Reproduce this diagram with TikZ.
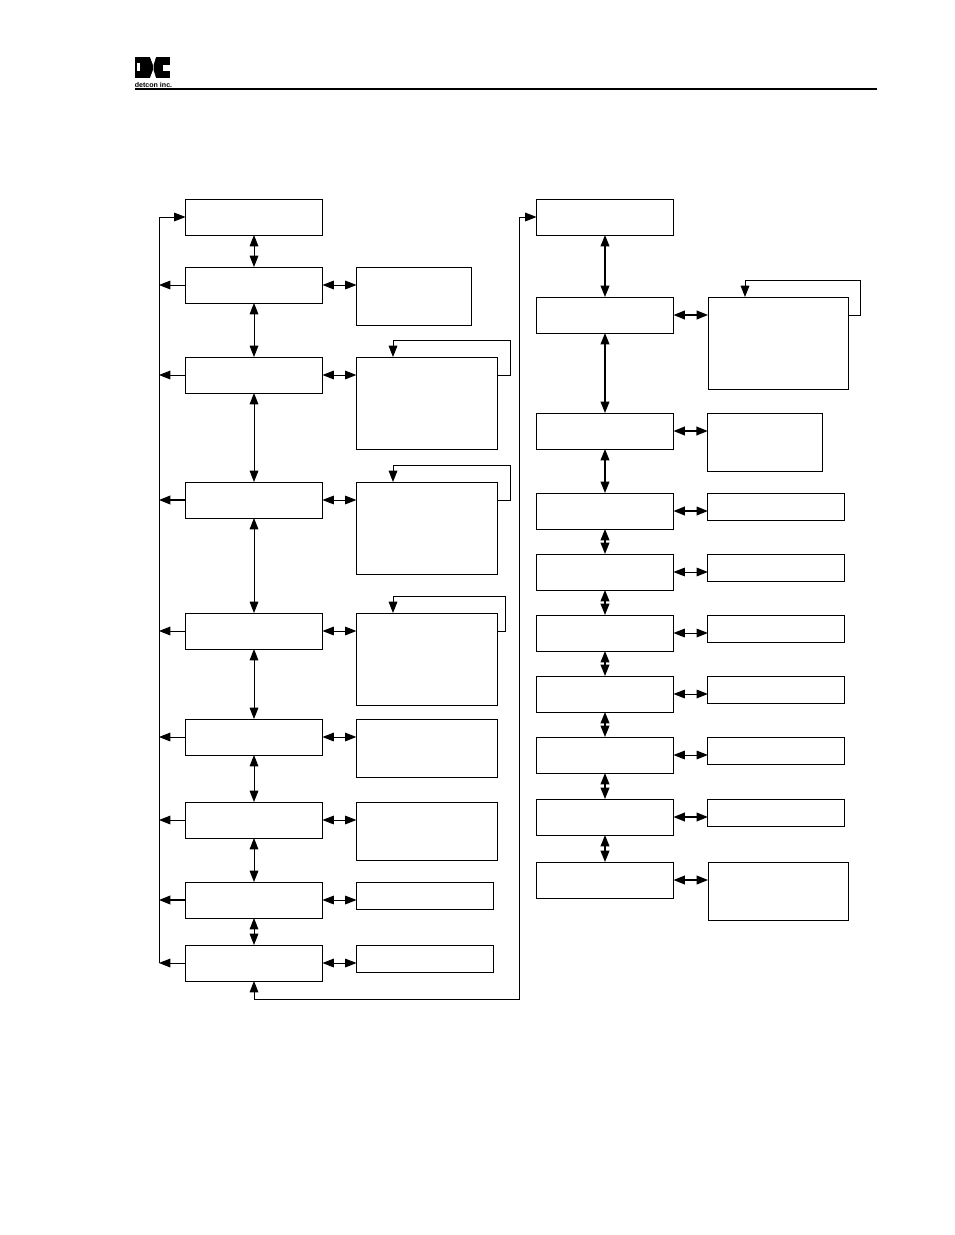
\documentclass[tikz,border=0pt]{standalone}
\usepackage{fontspec}
\setmainfont{Liberation Sans}
\usetikzlibrary{arrows.meta}
\tikzstyle{base}=[x=0.75pt, y=-0.75pt, line width=0.75pt, >={Triangle[length=8.5pt,width=6.5pt]}]
\tikzstyle{box}=[draw, black, inner sep=0pt, outer sep=0pt, minimum width=102.75pt]
\tikzstyle{menu}=[box, minimum height=27pt]
\tikzstyle{sideshort}=[box, minimum height=20.25pt]
\tikzstyle{sidemid}=[box, minimum width=86.25pt, minimum height=43.5pt]
\tikzstyle{sidetall}=[box, minimum width=105.5pt, minimum height=69pt]
\tikzstyle{sidewide}=[box, minimum width=105.5pt, minimum height=43.5pt]
\tikzstyle{heavy}=[line width=1.2pt]

\begin{document}
\begin{tikzpicture}[base]
    \path [use as bounding box] (0,0) rectangle (954,1235);
    \fill [white] (0,0) rectangle (954,1235);
    \fill [black] (135,57) rectangle (170,78);
    \fill [white] (150,57) -- (156,57) -- (153.5,65) -- (153.5,70) -- (156,78) -- (150,78) -- (153,70) -- (153,65) -- cycle;
    \fill [white] (137,63) rectangle (140,71);
    \fill [white] (163,65) rectangle (170,71);
    \node [inner sep=0pt, font=\bfseries\fontsize{5.3}{6}\selectfont] (brand) at (153.5,85) {detcon inc.};
    \coordinate (ruleStart) at (135,89);
    \coordinate (ruleEnd) at (877,89);
    \draw [line width=1.5pt] (ruleStart) -- (ruleEnd);
    \node [menu] (mainA) at (254,217) {};
    \node [menu] (mainB) at (254,285) {};
    \node [menu] (mainC) at (254,375) {};
    \node [menu] (mainD) at (254,500) {};
    \node [menu] (mainE) at (254,631) {};
    \node [menu] (mainF) at (254,737) {};
    \node [menu] (mainG) at (254,820) {};
    \node [menu] (mainH) at (254,900) {};
    \node [menu] (mainI) at (254,963) {};
    \node [sidemid] (sideB) at (414,296) {};
    \node [sidetall] (sideC) at (426.7,403) {};
    \node [sidetall] (sideD) at (426.7,528) {};
    \node [sidetall] (sideE) at (426.7,659) {};
    \node [sidewide] (sideF) at (426.7,748) {};
    \node [sidewide] (sideG) at (426.7,831) {};
    \node [sideshort] (sideH) at (425,896) {};
    \node [sideshort] (sideI) at (425,958.5) {};
    \node [menu] (rightA) at (605,217) {};
    \node [menu] (rightB) at (605,315) {};
    \node [menu] (rightC) at (605,431) {};
    \node [menu] (rightD) at (605,511) {};
    \node [menu] (rightE) at (605,572) {};
    \node [menu] (rightF) at (605,633) {};
    \node [menu] (rightG) at (605,694) {};
    \node [menu] (rightH) at (605,755) {};
    \node [menu] (rightI) at (605,817) {};
    \node [menu] (rightJ) at (605,880) {};
    \node [sidetall] (infoB) at (778.4,343) {};
    \node [sidemid] (infoC) at (765.3,442) {};
    \node [sideshort] (infoD) at (776.4,506.5) {};
    \node [sideshort] (infoE) at (776.4,567.5) {};
    \node [sideshort] (infoF) at (776.4,628.5) {};
    \node [sideshort] (infoG) at (776.4,689.5) {};
    \node [sideshort] (infoH) at (776.4,750.5) {};
    \node [sideshort] (infoI) at (776.4,812.5) {};
    \node [sidewide] (infoJ) at (778.4,891) {};
    \draw [<->] (mainA) -- (mainB);
    \draw [<->] (mainB) -- (mainC);
    \draw [<->] (mainC) -- (mainD);
    \draw [<->] (mainD) -- (mainE);
    \draw [<->] (mainE) -- (mainF);
    \draw [<->] (mainF) -- (mainG);
    \draw [<->] (mainG) -- (mainH);
    \draw [<->] (mainH) -- (mainI);
    \draw [<->] (mainB.east) -- (mainB.east -| sideB.west);
    \draw [<->] (mainC.east) -- (mainC.east -| sideC.west);
    \draw [<->] (mainD.east) -- (mainD.east -| sideD.west);
    \draw [<->] (mainE.east) -- (mainE.east -| sideE.west);
    \draw [<->] (mainF.east) -- (mainF.east -| sideF.west);
    \draw [<->] (mainG.east) -- (mainG.east -| sideG.west);
    \draw [<->] (mainH.east) -- (mainH.east -| sideH.west);
    \draw [<->] (mainI.east) -- (mainI.east -| sideI.west);
    \coordinate (busTop) at (159,217);
    \coordinate (busEnd) at (159,963);
    \draw [->] (busEnd) -- (busTop) -- (mainA.west);
    \draw [->] (mainB.west) -- (mainB.west -| busTop);
    \draw [->] (mainC.west) -- (mainC.west -| busTop);
    \draw [->, heavy] (mainD.west) -- (mainD.west -| busTop);
    \draw [->] (mainE.west) -- (mainE.west -| busTop);
    \draw [->] (mainF.west) -- (mainF.west -| busTop);
    \draw [->] (mainG.west) -- (mainG.west -| busTop);
    \draw [->, heavy] (mainH.west) -- (mainH.west -| busTop);
    \draw [->] (mainI.west) -- (mainI.west -| busTop);
    \coordinate (loopC) at (510,340);
    \coordinate (entryC) at (393,357);
    \coordinate (loopD) at (510,465);
    \coordinate (entryD) at (393,482);
    \coordinate (loopE) at (505,596);
    \coordinate (entryE) at (393,613);
    \coordinate (loopB) at (860,280);
    \coordinate (entryB) at (745,297);
    \draw [->] (mainC.east -| sideC.east) -| (loopC) -| (entryC);
    \draw [->] (mainD.east -| sideD.east) -| (loopD) -| (entryD);
    \draw [->] (mainE.east -| sideE.east) -| (loopE) -| (entryE);
    \draw [->] (rightB.east -| infoB.east) -| (loopB) -| (entryB);
    \coordinate (linkDown) at (254,999);
    \coordinate (linkUp) at (519,217);
    \draw [<->] (rightA.west) -- (linkUp) -- (linkUp |- linkDown) -- (linkDown) -- (mainI.south);
    \draw [<->, heavy] (rightA) -- (rightB);
    \draw [<->, heavy] (rightB) -- (rightC);
    \draw [<->, heavy] (rightC) -- (rightD);
    \draw [<->, heavy] (rightD) -- (rightE);
    \draw [<->, heavy] (rightE) -- (rightF);
    \draw [<->, heavy] (rightF) -- (rightG);
    \draw [<->, heavy] (rightG) -- (rightH);
    \draw [<->, heavy] (rightH) -- (rightI);
    \draw [<->, heavy] (rightI) -- (rightJ);
    \draw [<->, heavy] (rightB.east) -- (rightB.east -| infoB.west);
    \draw [<->, heavy] (rightC.east) -- (rightC.east -| infoC.west);
    \draw [<->, heavy] (rightD.east) -- (rightD.east -| infoD.west);
    \draw [<->] (rightE.east) -- (rightE.east -| infoE.west);
    \draw [<->] (rightF.east) -- (rightF.east -| infoF.west);
    \draw [<->] (rightG.east) -- (rightG.east -| infoG.west);
    \draw [<->] (rightH.east) -- (rightH.east -| infoH.west);
    \draw [<->, heavy] (rightI.east) -- (rightI.east -| infoI.west);
    \draw [<->, heavy] (rightJ.east) -- (rightJ.east -| infoJ.west);
\end{tikzpicture}
\end{document}
